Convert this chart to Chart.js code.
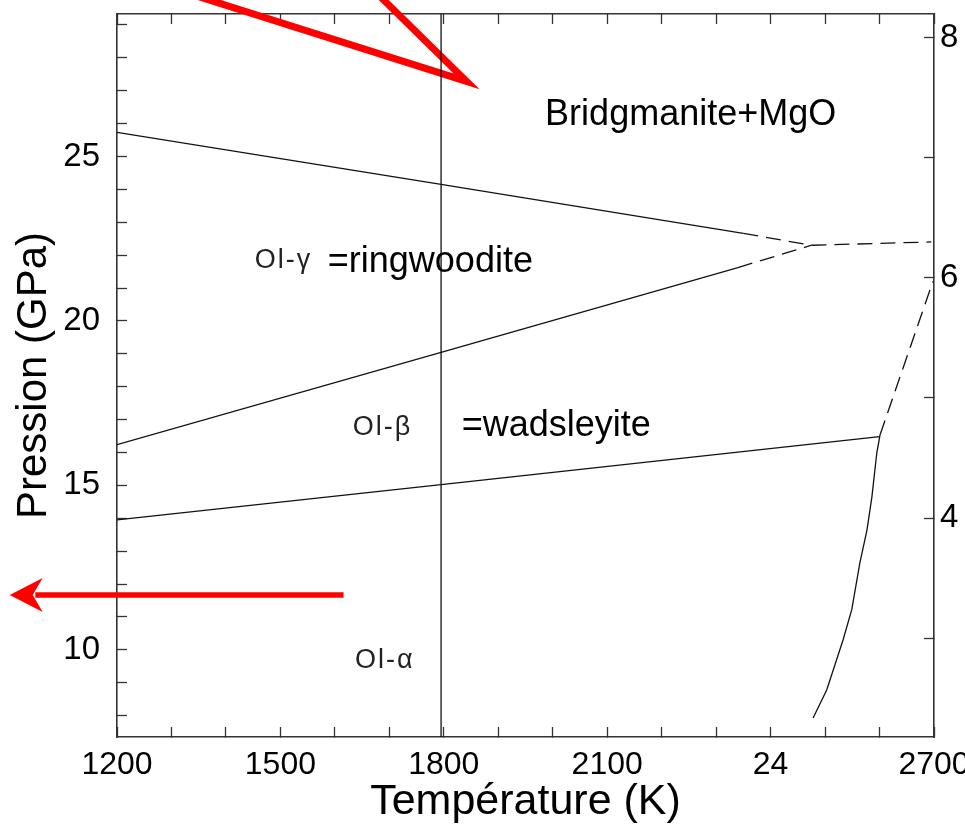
<!DOCTYPE html>
<html>
<head>
<meta charset="utf-8">
<script src="https://cdn.jsdelivr.net/npm/chart.js@4.4.1/dist/chart.umd.min.js"></script>
<style>
  html, body { margin: 0; padding: 0; background: #fff; }
  #wrap { width: 965px; height: 830px; }
</style>
</head>
<body>
<div id="wrap"><canvas id="diagramme" width="965" height="830"></canvas></div>
<script>
// axes
const tempMin = 1200;
const tempMax = 2700;
const presMin = 7.35;
const presMax = 29.33;
const rightMin = 2.175;
const rightMax = 8.2;
const tempTickValues = [1200, 1500, 1800, 2100, 2400, 2700];
const tempTickLabels = ['1200', '1500', '1800', '2100', '24', '2700'];
const presTickValues = [10, 15, 20, 25];
const rightTickValues = [4, 6, 8];

// phase boundaries (K, GPa)
const gammaPvTemp = [1200, 1795, 2350];
const gammaPvPres = [25.73, 24.15, 22.66];
const gammaPvDashTemp = [2350, 2475];
const gammaPvDashPres = [22.66, 22.3];
const pvFlatTemp = [2475, 2695];
const pvFlatPres = [22.3, 22.4];
const betaGammaTemp = [1200, 1795, 2340];
const betaGammaPres = [16.24, 19.04, 21.62];
const betaGammaDashTemp = [2340, 2475];
const betaGammaDashPres = [21.62, 22.3];
const alphaBetaTemp = [1200, 1795, 2600];
const alphaBetaPres = [13.95, 15.02, 16.48];
const solidusTemp = [2478, 2503, 2533, 2549, 2564, 2577, 2586, 2595, 2601];
const solidusPres = [7.93, 8.78, 10.3, 11.22, 12.65, 13.65, 14.65, 15.99, 16.54];
const solidusDashTemp = [2601, 2698];
const solidusDashPres = [16.54, 21.2];
const isothermTemp = [1795, 1795];
const isothermPres = [presMin, presMax];

// red marks drawn over the figure
const redVTemp = [1336, 1842, 1679];
const redVPres = [29.93, 27.28, 29.93];
const redArrowTemp = [1616, 1050];
const redArrowPres = [11.67, 11.67];
const redTipTemp = 1003;
const redTipPres = 11.67;

// phase names
const phaseNames = ['Bridgmanite+MgO', 'Ol-γ', '=ringwoodite', 'Ol-β', '=wadsleyite', 'Ol-α'];
const phaseNameTemp = [1986, 1453, 1587, 1633, 1833, 1637];
const phaseNamePres = [25.97, 21.62, 21.5, 16.54, 16.49, 9.45];

const fontFamily = '"Liberation Sans", Arial, Helvetica, sans-serif';
const axisColor = '#333';

const pts = (xs, ys) => xs.map((x, i) => ({ x: x, y: ys[i] }));

function boundary(xs, ys, dashed) {
  return {
    data: pts(xs, ys),
    showLine: true,
    borderColor: '#111',
    borderWidth: 1.3,
    borderDash: dashed ? [15, 8] : [],
    pointRadius: 0,
    pointHoverRadius: 0,
    fill: false,
  };
}

function noPadding(scale) {
  scale.paddingLeft = 0;
  scale.paddingRight = 0;
  scale.paddingTop = 0;
  scale.paddingBottom = 0;
}

const phaseLabels = {
  id: 'phaseLabels',
  afterDatasetsDraw(chart) {
    const { ctx } = chart;
    const x = chart.scales.x;
    const y = chart.scales.y;
    ctx.save();
    ctx.fillStyle = '#000';
    ctx.textAlign = 'left';
    ctx.textBaseline = 'alphabetic';
    phaseNames.forEach((name, i) => {
      const small = name.startsWith('Ol');
      ctx.font = (small ? '27px ' : '36px ') + fontFamily;
      ctx.letterSpacing = small ? '2px' : '0px';
      ctx.fillStyle = small ? '#222' : '#000';
      ctx.fillText(name, x.getPixelForValue(phaseNameTemp[i]), y.getPixelForValue(phaseNamePres[i]));
    });
    ctx.letterSpacing = '0px';

    // arrow head on the red arrow
    const tx = x.getPixelForValue(redTipTemp);
    const ty = y.getPixelForValue(redTipPres);
    ctx.fillStyle = '#ff0000';
    ctx.beginPath();
    ctx.moveTo(tx, ty);
    ctx.lineTo(tx + 33, ty - 17);
    ctx.lineTo(tx + 23, ty);
    ctx.lineTo(tx + 33, ty + 17);
    ctx.closePath();
    ctx.fill();
    ctx.restore();
  },
};

const innerGrid = {
  drawOnChartArea: false,
  drawTicks: true,
  tickLength: -10,
  tickColor: axisColor,
  tickWidth: 1.3,
};

new Chart(document.getElementById('diagramme'), {
  type: 'scatter',
  data: {
    datasets: [
      boundary(gammaPvTemp, gammaPvPres, false),
      boundary(gammaPvDashTemp, gammaPvDashPres, true),
      boundary(pvFlatTemp, pvFlatPres, true),
      boundary(betaGammaTemp, betaGammaPres, false),
      boundary(betaGammaDashTemp, betaGammaDashPres, true),
      boundary(alphaBetaTemp, alphaBetaPres, false),
      boundary(solidusTemp, solidusPres, false),
      boundary(solidusDashTemp, solidusDashPres, true),
      boundary(isothermTemp, isothermPres, false),
      {
        data: pts(redVTemp, redVPres),
        showLine: true,
        borderColor: '#ff0000',
        borderWidth: 7,
        borderJoinStyle: 'miter',
        pointRadius: 0,
        clip: false,
      },
      {
        data: pts(redArrowTemp, redArrowPres),
        showLine: true,
        borderColor: '#ff0000',
        borderWidth: 5.5,
        pointRadius: 0,
        clip: false,
      },
    ],
  },
  options: {
    responsive: false,
    animation: false,
    events: [],
    layout: { padding: 0 },
    plugins: {
      legend: { display: false },
      tooltip: { enabled: false },
    },
    scales: {
      x: {
        type: 'linear',
        position: 'bottom',
        min: tempMin,
        max: tempMax,
        border: { display: true, color: axisColor, width: 1.6 },
        grid: innerGrid,
        ticks: {
          stepSize: 100,
          autoSkip: false,
          maxRotation: 0,
          minRotation: 0,
          padding: 19,
          color: '#000',
          font: { family: fontFamily, size: 32 },
          callback: function (value) {
            const i = tempTickValues.indexOf(Math.round(value));
            return i >= 0 ? tempTickLabels[i] : '';
          },
        },
        title: {
          display: true,
          text: 'Température (K)',
          color: '#000',
          font: { family: fontFamily, size: 43 },
          padding: { top: 0, bottom: 2 },
        },
        afterFit: function (scale) {
          scale.height = 93;
          noPadding(scale);
        },
      },
      xTop: {
        type: 'linear',
        position: 'top',
        min: tempMin,
        max: tempMax,
        border: { display: true, color: axisColor, width: 1.6 },
        grid: innerGrid,
        ticks: { stepSize: 100, display: false },
        afterFit: function (scale) {
          scale.height = 14;
          noPadding(scale);
        },
      },
      y: {
        type: 'linear',
        position: 'left',
        min: presMin,
        max: presMax,
        border: { display: true, color: axisColor, width: 1.6 },
        grid: innerGrid,
        ticks: {
          stepSize: 1,
          includeBounds: false,
          autoSkip: false,
          padding: 27,
          color: '#000',
          font: { family: fontFamily, size: 33 },
          callback: function (value) {
            return presTickValues.includes(Math.round(value * 100) / 100) ? String(value) : '';
          },
        },
        title: {
          display: true,
          text: 'Pression (GPa)',
          color: '#000',
          font: { family: fontFamily, size: 42 },
          padding: { top: 9, bottom: 0 },
        },
        afterFit: function (scale) {
          scale.width = 117;
          noPadding(scale);
        },
      },
      yRight: {
        type: 'linear',
        position: 'right',
        min: rightMin,
        max: rightMax,
        border: { display: true, color: axisColor, width: 1.6 },
        grid: innerGrid,
        ticks: {
          stepSize: 1,
          includeBounds: false,
          autoSkip: false,
          padding: 16,
          color: '#000',
          font: { family: fontFamily, size: 33 },
          callback: function (value) {
            return rightTickValues.includes(Math.round(value * 100) / 100) ? String(value) : '';
          },
        },
        afterFit: function (scale) {
          scale.width = 31;
          noPadding(scale);
        },
      },
    },
  },
  plugins: [phaseLabels],
});
</script>
</body>
</html>
